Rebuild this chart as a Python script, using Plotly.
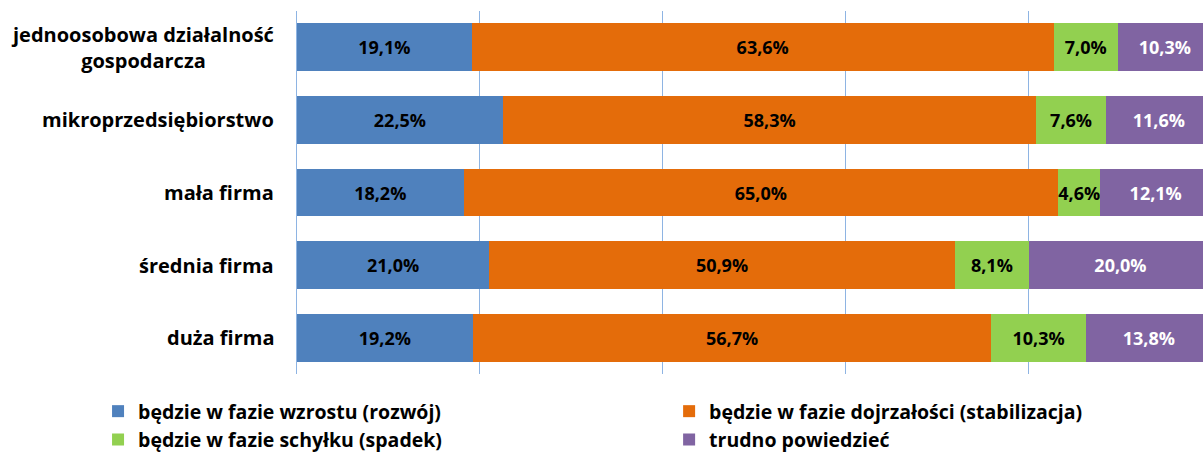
import plotly.graph_objects as go

# Categories (top to bottom) and shares in percent for each phase
categories = [
    "jednoosobowa działalność<br>gospodarcza",
    "mikroprzedsiębiorstwo",
    "mała firma",
    "średnia firma",
    "duża firma",
]
series_names = [
    "będzie w fazie wzrostu (rozwój)",
    "będzie w fazie dojrzałości (stabilizacja)",
    "będzie w fazie schyłku (spadek)",
    "trudno powiedzieć",
]
wzrost = [19.1, 22.5, 18.2, 21.0, 19.2]
dojrzalosc = [63.6, 58.3, 65.0, 50.9, 56.7]
schylek = [7.0, 7.6, 4.6, 8.1, 10.3]
trudno = [10.3, 11.6, 12.1, 20.0, 13.8]

colors = ["#4F81BD", "#E46C0A", "#92D050", "#8064A2"]
label_colors = ["#000000", "#000000", "#000000", "#FFFFFF"]
legend_ids = ["legend", "legend2", "legend3", "legend4"]
# legend entry positions (container fractions): two columns, two rows
legend_pos = [(0.0815, 0.1347), (0.5562, 0.1347), (0.0815, 0.0720), (0.5562, 0.0720)]

FONT = "Open Sans"


def fmt(v):
    return f"{v:.1f}".replace(".", ",") + "%"


fig = go.Figure()
for name, vals, col, lcol, lg in zip(series_names, [wzrost, dojrzalosc, schylek, trudno],
                                     colors, label_colors, legend_ids):
    fig.add_trace(go.Bar(
        y=categories,
        x=vals,
        name=name,
        orientation="h",
        marker=dict(color=col, line=dict(width=0)),
        text=[fmt(v) for v in vals],
        textposition="inside",
        insidetextanchor="middle",
        textangle=0,
        constraintext="none",
        textfont=dict(family=FONT, size=18, color=lcol, weight=700),
        legend=lg,
        hoverinfo="skip",
    ))

# Category labels, centred per line and right-aligned against the axis
for cat in categories:
    fig.add_annotation(
        x=0, xref="paper", y=cat, yref="y",
        text=cat, showarrow=False, xanchor="right", yanchor="middle",
        xshift=-21, align="center",
        font=dict(family=FONT, size=20, color="#000000", weight=700),
    )

legends = {}
for lg, (lx, ly) in zip(legend_ids, legend_pos):
    legends[lg] = dict(
        xref="container", yref="container",
        x=lx, y=ly,
        orientation="h",
        xanchor="left",
        yanchor="top",
        font=dict(family=FONT, size=19.5, color="#000000", weight=700),
        bgcolor="rgba(0,0,0,0)",
        itemclick=False,
    )

fig.update_layout(
    width=1203,
    height=453,
    margin=dict(l=297, r=0, t=11, b=79, autoexpand=False),
    paper_bgcolor="white",
    plot_bgcolor="white",
    barmode="stack",
    bargap=0.34,
    uniformtext=dict(minsize=18, mode="show"),
    showlegend=True,
    xaxis=dict(
        range=[0, 99.02],
        dtick=20,
        showgrid=True,
        gridcolor="#8EB4E3",
        gridwidth=1,
        zeroline=False,
        showticklabels=False,
        fixedrange=True,
    ),
    yaxis=dict(
        categoryorder="array",
        categoryarray=categories[::-1],
        autorange=True,
        showticklabels=False,
        showline=True,
        linecolor="#8EB4E3",
        linewidth=1,
        ticks="",
        fixedrange=True,
    ),
    **legends,
)

fig.write_html("out.html")
